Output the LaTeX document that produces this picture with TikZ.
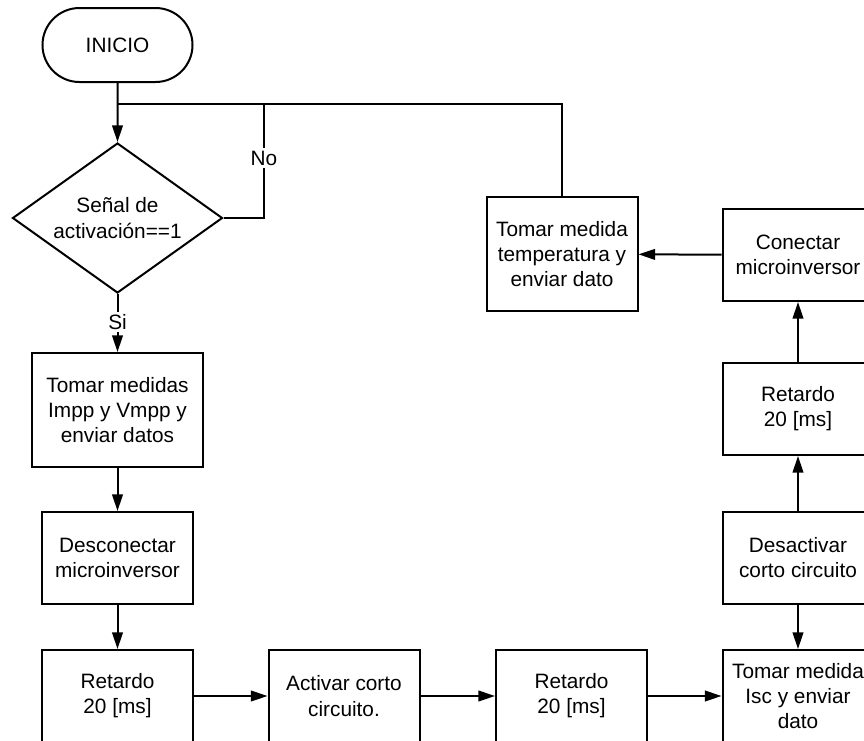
\documentclass[tikz,border=0pt]{standalone}
\usepackage{fontspec}
\setmainfont{Liberation Sans}
\usetikzlibrary{shapes.geometric,shapes.misc,arrows.meta}
\begin{document}
\begin{tikzpicture}[x=0.75pt,y=-0.75pt,
  every node/.style={font=\fontsize{15.6}{18.9}\selectfont, align=center},
  box/.style={draw, line width=1.5pt, rectangle, inner sep=0pt, minimum width=113.25pt, minimum height=69pt},
  arr/.style={-{Triangle[length=12.5pt,width=8pt]}},
  ln/.style={line width=1.5pt},
  lbl/.style={fill=white, inner sep=2pt}]
\useasboundingbox (0,0) rectangle (864,740);
\node[draw, ln, rounded rectangle, minimum width=112.5pt, minimum height=55.5pt, inner sep=0pt] (inicio) at (117.5,45) {INICIO};
\node[draw, ln, diamond, minimum width=157.5pt, minimum height=112.5pt, inner sep=0pt] (dec) at (117.5,218) {};
\node at (dec) {Señal de\\activación==1};
\node[box, minimum width=128.25pt, minimum height=85.5pt] (t1) at (117.5,410) {Tomar medidas\\Impp y Vmpp y\\enviar datos};
\node[box] (desc) at (117.5,558) {Desconectar\\microinversor};
\node[box] (r1) at (117.5,696) {Retardo\\20 [ms]};
\node[box] (act) at (344,696) {Activar corto\\circuito.};
\node[box] (r2) at (571.5,696) {Retardo\\20 [ms]};
\node[box] (isc) at (798,696) {Tomar medida\\Isc y enviar\\dato};
\node[box] (desa) at (798,557.5) {Desactivar\\corto circuito};
\node[box] (r3) at (798,409) {Retardo\\20 [ms]};
\node[box] (con) at (798,255) {Conectar\\microinversor};
\node[box, minimum height=85.5pt] (temp) at (562,254) {Tomar medida\\temperatura y\\enviar dato};
\coordinate (j) at (117.5,104);
\coordinate (nc) at (264,104);
\begin{scope}[ln]
\draw[arr] (inicio) -- (dec);
\draw (dec.east) -- (dec.east -| nc) -- (nc);
\draw (temp.north) |- (j);
\draw[arr] (dec.south) -- (t1.north);
\draw[arr] (t1) -- (desc);
\draw[arr] (desc) -- (r1);
\draw[arr] (r1) -- (act);
\draw[arr] (act) -- (r2);
\draw[arr] (r2) -- (isc);
\draw[arr] (desa) -- (isc);
\draw[arr] (desa) -- (r3);
\draw[arr] (r3) -- (con);
\draw[arr] (con) -- (temp);
\end{scope}
\node[lbl] (no) at (264,158) {No};
\node[lbl] (si) at (117.5,322) {Si};
\end{tikzpicture}
\end{document}
